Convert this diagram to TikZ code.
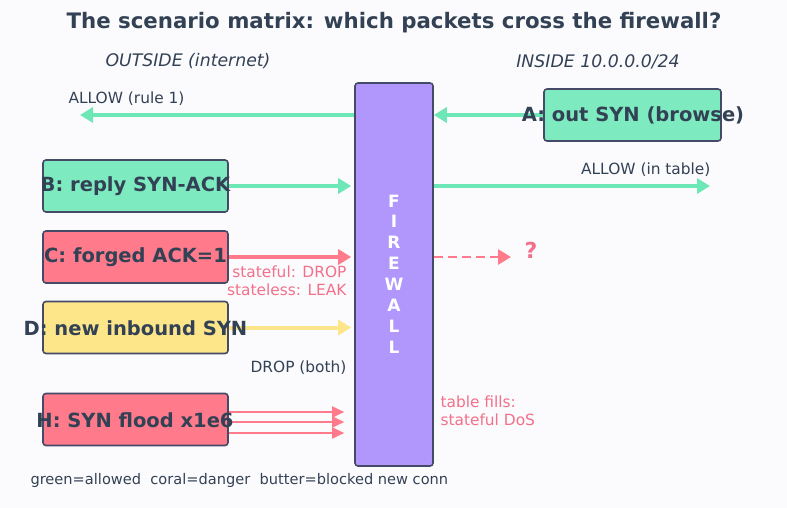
\documentclass[tikz,border=0pt]{standalone}
\usepackage{fontspec}
\setmainfont{DejaVu Sans}
\usetikzlibrary{arrows.meta}
\definecolor{bg}{HTML}{FBFBFD}
\definecolor{ink}{HTML}{334155}
\definecolor{edge}{HTML}{454A66}
\definecolor{mint}{HTML}{7EEAC0}
\definecolor{mintline}{HTML}{6EE7B7}
\definecolor{coral}{HTML}{FF7B8C}
\definecolor{coraltext}{HTML}{F2708A}
\definecolor{butter}{HTML}{FDE68A}
\definecolor{purp}{HTML}{B197FC}
\tikzset{
  box/.style={draw=edge, line width=1.6pt, rounded corners=3pt, minimum width=185pt, minimum height=52pt, inner sep=0pt},
  boxtext/.style={font=\bfseries\fontsize{19.5}{22}\selectfont, text=ink},
  arr/.style={line width=4pt, -{Triangle[length=13pt,width=15pt]}},
  thin/.style={line width=1.8pt, -{Triangle[length=12pt,width=11pt]}},
  lbl/.style={font=\fontsize{15.4}{18}\selectfont, text=ink},
  clbl/.style={font=\fontsize{15.4}{18}\selectfont, text=coraltext, align=right},
}
\begin{document}
\begin{tikzpicture}[x=1pt,y=-1pt]
\fill[bg] (0,0) rectangle (787,508);
\useasboundingbox (0,0) rectangle (787,508);

\node[font=\bfseries\fontsize{21.3}{24}\selectfont, text=ink] (title) at (394,23) {The scenario matrix: which packets cross the firewall?};
\node[font=\itshape\fontsize{17.3}{20}\selectfont, text=ink] (out) at (188,61) {OUTSIDE (internet)};
\node[font=\itshape\fontsize{17.3}{20}\selectfont, text=ink] (in) at (598,62) {INSIDE 10.0.0.0/24};

% firewall
\node[draw=edge, line width=1.6pt, rounded corners=3pt, fill=purp, minimum width=78pt, minimum height=383pt, inner sep=0pt] (fw) at (394,274.5) {};
\node[font=\bfseries\fontsize{17}{20.9}\selectfont, text=white, align=center] (fwt) at (394,274) {F\\I\\R\\E\\W\\A\\L\\L};

% boxes
\node[box, fill=mint, minimum width=177pt] (A) at (632.5,115) {};
\node[box, fill=mint] (B) at (135.5,186) {};
\node[box, fill=coral] (C) at (135.5,257) {};
\node[box, fill=butter] (D) at (135.5,327.5) {};
\node[box, fill=coral] (H) at (135.5,419.5) {};

% free ends
\coordinate (Lend) at (80,115);
\coordinate (Rend) at (710,186);
\coordinate (Qend) at (511,257);

% arrows
\draw[arr, mintline] (fw.west |- A) -- (Lend);
\draw[arr, mintline] (A.west) -- (fw.east |- A);
\draw[arr, mintline] (B.east) -- ([xshift=-3pt]fw.west |- B);
\draw[arr, mintline] (fw.east |- B) -- (Rend);
\draw[arr, coral] (C.east) -- ([xshift=-3pt]fw.west |- C);
\draw[arr, coral, -{Triangle[length=13pt,width=15pt]}, dash pattern=on 9pt off 5pt, line width=2.8pt] (fw.east |- C) -- (Qend);
\draw[arr, butter] (D.east) -- ([xshift=-3pt]fw.west |- D);
\draw[thin, coral] ([yshift=7.5pt]H.east) -- ([xshift=-10pt,yshift=7.5pt]fw.west |- H);
\draw[thin, coral] ([yshift=-2.5pt]H.east) -- ([xshift=-10pt,yshift=-2.5pt]fw.west |- H);
\draw[thin, coral] ([yshift=-13.5pt]H.east) -- ([xshift=-10pt,yshift=-13.5pt]fw.west |- H);

% box texts on top
\node[boxtext] (At) at (633,115.5) {A: out SYN (browse)};
\node[boxtext] (Bt) at (135.5,186.5) {B: reply SYN-ACK};
\node[boxtext] (Ct) at (135.5,257.5) {C: forged ACK=1};
\node[boxtext] (Dt) at (135.5,328.5) {D: new inbound SYN};
\node[boxtext] (Ht) at (135,420.5) {H: SYN flood x1e6};

% labels
\node[lbl, anchor=west] (l1) at (65,98.5) {ALLOW (rule 1)};
\node[lbl, anchor=east] (l2) at (714,169.5) {ALLOW (in table)};
\node[clbl, anchor=east] (l3) at (350,280.5) {stateful: DROP\\stateless: LEAK};
\node[font=\bfseries\fontsize{22}{24}\selectfont, text=coraltext] (q) at (531,250) {?};
\node[lbl, anchor=east] (l4) at (350,367.5) {DROP (both)};
\node[clbl, anchor=west, align=left] (l5) at (437,411) {table fills:\\stateful DoS};
\node[font=\fontsize{14.6}{18}\selectfont, text=ink, anchor=west] (foot) at (27,480.5) {green=allowed\ \ coral=danger\ \ butter=blocked new conn};
\end{tikzpicture}
\end{document}
